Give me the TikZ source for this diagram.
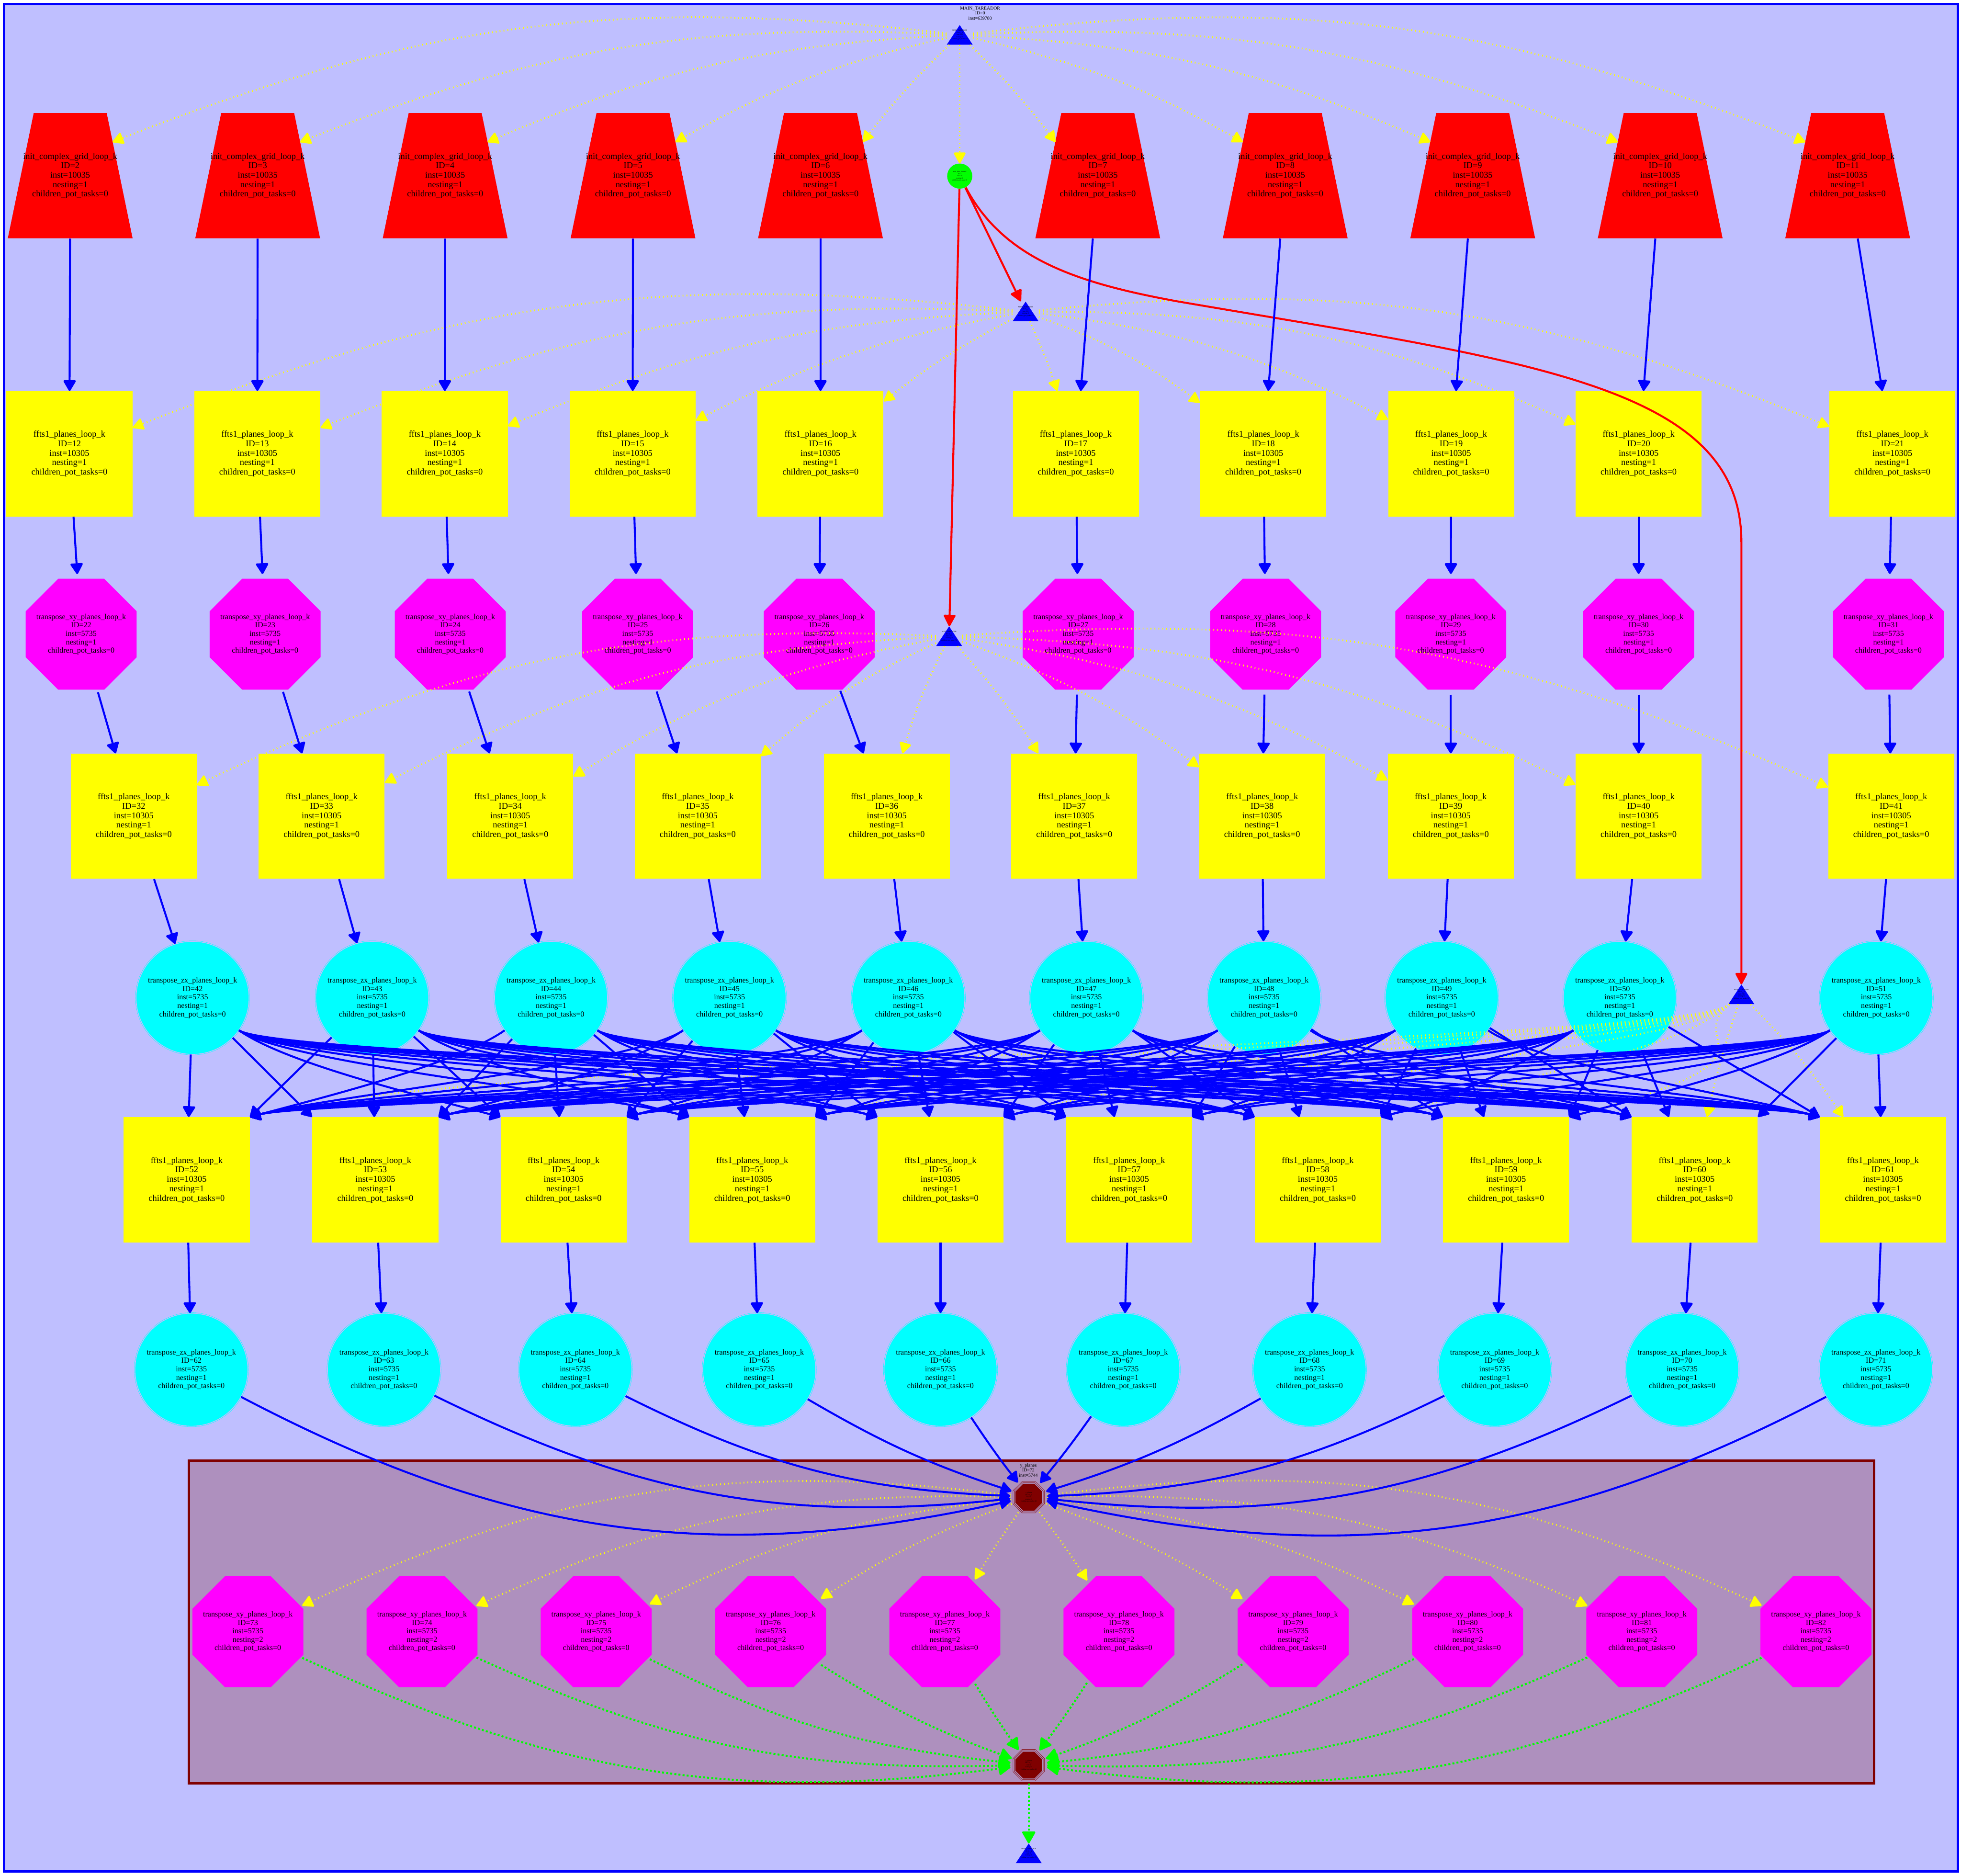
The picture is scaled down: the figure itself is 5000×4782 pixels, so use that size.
\documentclass[tikz,border=0pt]{standalone}
\usepackage{fontspec}
\setmainfont{Liberation Serif}
\usepackage{tikz}
\usetikzlibrary{arrows.meta}
\usepackage{xcolor}
\definecolor{lavender}{RGB}{191,191,255}
\definecolor{plum}{RGB}{174,144,190}
\definecolor{maroon}{RGB}{128,0,0}
\definecolor{taskred}{RGB}{255,0,0}
\definecolor{taskyellow}{RGB}{255,255,0}
\definecolor{taskmagenta}{RGB}{255,0,255}
\definecolor{taskcyan}{RGB}{0,255,255}
\definecolor{taskgreen}{RGB}{0,255,0}
\definecolor{taskblue}{RGB}{0,0,255}
\newcommand{\bigfont}{\fontsize{6.4}{6.83}\selectfont}
\newcommand{\midfont}{\fontsize{5.6}{6.1}\selectfont}
\newcommand{\headfont}{\fontsize{3.4}{3.7}\selectfont}
\newcommand{\tinyfont}{\fontsize{1.25}{1.55}\selectfont}
\newcommand{\tasklabel}[4]{#1\\ID=#2\\inst=#3\\nesting=#4\\children\_pot\_tasks=0}
\newcommand{\tareador}[2]{MAIN\_TAREADOR\\ID=0\_\_#1\\inst=#2\\nesting=0\\children\_pot\_tasks=72}
% regular octagon with flat top, around the path picture centre
\newcommand{\octagon}[1]{(path picture bounding box.center) +(22.5:#1) -- +(67.5:#1) -- +(112.5:#1)
  -- +(157.5:#1) -- +(202.5:#1) -- +(247.5:#1) -- +(292.5:#1) -- +(337.5:#1) -- cycle}

\begin{document}
\begin{tikzpicture}[x=0.01cm,y=0.01cm,
  every node/.style={inner sep=0pt,align=center},
  initgrid/.style={rectangle,minimum width=3.18cm,minimum height=3.19cm,font=\bigfont,
    path picture={\fill[taskred] ([xshift=0.66cm]path picture bounding box.north west)
      -- ([xshift=-0.66cm]path picture bounding box.north east) -- (path picture bounding box.south east)
      -- (path picture bounding box.south west) -- cycle;}},
  ffts/.style={rectangle,minimum width=3.21cm,minimum height=3.19cm,fill=taskyellow,font=\bigfont},
  xyoct/.style={circle,minimum size=3.06cm,font=\midfont,
    path picture={\fill[taskmagenta] \octagon{1.53cm};}},
  zxcirc/.style={circle,minimum size=2.88cm,fill=taskcyan,draw=taskcyan,line width=0.008cm,
    double=lavender,double distance=0.02cm,font=\midfont},
  tareadorbox/.style={rectangle,minimum width=0.66cm,minimum height=0.5cm,font=\tinyfont,
    path picture={\fill[taskblue] (path picture bounding box.south west) -- (path picture bounding box.south east)
      -- (path picture bounding box.north) -- cycle;}},
  yplanes/.style={circle,minimum size=0.92cm,font=\tinyfont,
    path picture={\fill[maroon] \octagon{0.37cm};
      \draw[maroon,line width=0.008cm] \octagon{0.4cm} \octagon{0.435cm};}},
  flowedge/.style={taskblue,line width=0.05cm,-{Triangle[length=0.3cm,width=0.34cm,round]}},
  spawnedge/.style={taskyellow,line width=0.045cm,dash pattern=on 0.02cm off 0.08cm,
    -{Triangle[length=0.3cm,width=0.32cm,round]}},
  syncedge/.style={taskgreen,line width=0.05cm,dash pattern=on 0.05cm off 0.055cm,
    -{Triangle[length=0.33cm,width=0.36cm,round]}},
  depedge/.style={taskred,line width=0.05cm,-{Triangle[length=0.32cm,width=0.32cm,round]}}]
  \useasboundingbox (0,0) rectangle (5000,4782);
  % clusters
  \draw[fill=lavender,draw=taskblue,line width=0.06cm] (10,11) rectangle (4992,4772);
  \draw[fill=plum,draw=maroon,line width=0.06cm] (482,236) rectangle (4778,1058);
  \node[font=\headfont] (title) at (2499,4748) {MAIN\_TAREADOR\\ID=0\\inst=639780};
  \node[font=\headfont] (ylabel) at (2622,1034) {y\_planes\\ID=72\\inst=5744};

  % runtime markers
  \node[tareadorbox] (m0) at (2447,4693) {\tareador{0}{126}};
  \node[tareadorbox] (m1) at (2615,3988) {\tareador{1}{201}};
  \node[tareadorbox] (m2) at (2420,3160) {\tareador{2}{201}};
  \node[tareadorbox] (m3) at (4440,2247) {\tareador{3}{248}};
  \node[tareadorbox] (m4) at (2623,57) {\tareador{4}{0}};
  \node[circle,minimum size=0.64cm,fill=taskgreen,font=\tinyfont] (n1) at (2447,4333)
    {start\_plan\_forward\\ID=1\\inst=20\\nesting=1\\children\_pot\_tasks=0};

  % tasks
  \foreach \k/\x in {2/179,3/657,4/1135,5/1614,6/2092,7/2799,8/3277,9/3755,10/4233,11/4711}
    \node[initgrid] (n\k) at (\x,4334) {\tasklabel{init\_complex\_grid\_loop\_k}{\k}{10035}{1}};
  \foreach \k/\x in {12/177,13/656,14/1134,15/1613,16/2092,17/2743,18/3221,19/3700,20/4178,21/4825}
    \node[ffts] (n\k) at (\x,3625) {\tasklabel{ffts1\_planes\_loop\_k}{\k}{10305}{1}};
  \foreach \k/\x in {22/207,23/676,24/1148,25/1626,26/2089,27/2749,28/3227,29/3699,30/4178,31/4815}
    \node[xyoct] (n\k) at (\x,3165) {\tasklabel{transpose\_xy\_planes\_loop\_k}{\k}{5735}{1}};
  \foreach \k/\x in {32/341,33/820,34/1301,35/1779,36/2261,37/2739,38/3218,39/3699,40/4178,41/4822}
    \node[ffts] (n\k) at (\x,2701) {\tasklabel{ffts1\_planes\_loop\_k}{\k}{10305}{1}};
  \foreach \k/\x in {42/491,43/949,44/1405,45/1860,46/2316,47/2770,48/3223,49/3676,50/4130,51/4784}
    \node[zxcirc] (n\k) at (\x,2238) {\tasklabel{transpose\_zx\_planes\_loop\_k}{\k}{5735}{1}};
  \foreach \k/\x in {52/476,53/957,54/1437,55/1918,56/2398,57/2879,58/3360,59/3840,60/4321,61/4801}
    \node[ffts] (n\k) at (\x,1774) {\tasklabel{ffts1\_planes\_loop\_k}{\k}{10305}{1}};
  \foreach \k/\x in {62/488,63/979,64/1467,65/1936,66/2398,67/2864,68/3339,69/3811,70/4289,71/4783}
    \node[zxcirc] (n\k) at (\x,1290) {\tasklabel{transpose\_zx\_planes\_loop\_k}{\k}{5735}{1}};
  \node[yplanes] (y0) at (2623,965) {y\_planes\\ID=72\_\_0\\inst=58\\nesting=1\\children\_pot\_tasks=10};
  \foreach \k/\x in {73/632,74/1076,75/1520,76/1965,77/2409,78/2853,79/3297,80/3742,81/4186,82/4630}
    \node[xyoct] (n\k) at (\x,622) {\tasklabel{transpose\_xy\_planes\_loop\_k}{\k}{5735}{2}};
  \node[yplanes] (y1) at (2623,282) {y\_planes\\ID=72\_\_1\\inst=0\\nesting=1\\children\_pot\_tasks=10};

  % task creation
  \draw[spawnedge] (m0) -- (n1);
  \foreach \k/\b in {2/14,3/12,4/10,5/8,6/4}
    \draw[spawnedge] (m0) to[bend right=\b] ([shift={(108,86)}]n\k.center);
  \foreach \k/\b in {7/4,8/8,9/10,10/12,11/14}
    \draw[spawnedge] (m0) to[bend left=\b] ([shift={(-108,86)}]n\k.center);
  \foreach \k/\b in {12/14,13/12,14/10,15/8,16/5} \draw[spawnedge] (m1) to[bend right=\b] (n\k);
  \foreach \k/\b in {17/3,18/8,19/10,20/12,21/14} \draw[spawnedge] (m1) to[bend left=\b] (n\k);
  \foreach \k/\b in {32/14,33/12,34/10,35/8,36/5} \draw[spawnedge] (m2) to[bend right=\b] (n\k);
  \foreach \k/\b in {37/5,38/8,39/10,40/12,41/14} \draw[spawnedge] (m2) to[bend left=\b] (n\k);
  \foreach \k in {52,...,59}
    \draw[spawnedge] (m3) .. controls +(220:2cm) and +(15:6cm) .. (n\k.north east);
  \draw[spawnedge] (m3) to[bend right=3] (n60);
  \draw[spawnedge] (m3) to[bend left=5] (n61);
  \foreach \k/\b in {73/16,74/13,75/10,76/6,77/2} \draw[spawnedge] (y0) to[bend right=\b] (n\k);
  \foreach \k/\b in {78/2,79/6,80/10,81/13,82/16} \draw[spawnedge] (y0) to[bend left=\b] (n\k);

  % dependences
  \draw[depedge] (n1) -- (m1);
  \draw[depedge] (n1) -- (m2);
  \draw[depedge] (n1) .. controls (2560,4120) and (2750,4060) .. (3000,4014)
    .. controls (3900,3860) and (4440,3800) .. (4440,3400) -- (m3);
  \foreach \k in {2,...,41} {
    \pgfmathtruncatemacro\nxt{\k+10}
    \draw[flowedge] (n\k) -- (n\nxt);
  }
  \foreach \k in {52,...,61} {
    \pgfmathtruncatemacro\nxt{\k+10}
    \draw[flowedge] (n\k) -- (n\nxt);
  }
  \foreach \i in {0,...,9} {
    \foreach \j in {0,...,9} {
      \pgfmathtruncatemacro\src{42+\i}
      \pgfmathtruncatemacro\dst{52+\j}
      \pgfmathtruncatemacro\dd{\j-\i}
      \ifnum\dd=0
        \draw[flowedge] (n\src) -- (n\dst);
      \else\ifnum\dd=1
        \draw[flowedge] (n\src) -- (n\dst.north west);
      \else\ifnum\dd=-1
        \draw[flowedge] (n\src) -- (n\dst.north east);
      \else\ifnum\dd>1
        \draw[flowedge] (n\src.-35) .. controls +(-35:1.5cm) and +(165:2cm) .. (n\dst.north west);
      \else
        \draw[flowedge] (n\src.-145) .. controls +(-145:1.5cm) and +(15:2cm) .. (n\dst.north east);
      \fi\fi\fi\fi
    }
  }
  \foreach \k/\b in {62/20,63/16,64/12,65/6,66/2} \draw[flowedge] (n\k) to[bend right=\b] (y0);
  \foreach \k/\b in {67/2,68/6,69/12,70/16,71/20} \draw[flowedge] (n\k) to[bend left=\b] (y0);

  % barrier
  \foreach \k/\b in {73/16,74/13,75/10,76/6,77/2} \draw[syncedge] (n\k) to[bend right=\b] (y1);
  \foreach \k/\b in {78/2,79/6,80/10,81/13,82/16} \draw[syncedge] (n\k) to[bend left=\b] (y1);
  \draw[syncedge] (y1) -- (m4);
\end{tikzpicture}
\end{document}
